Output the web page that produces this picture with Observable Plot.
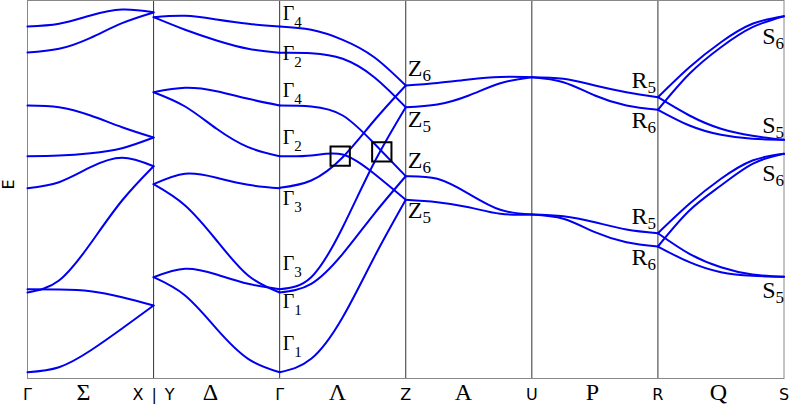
<!DOCTYPE html>
<html>
<head>
<meta charset="utf-8">
<script src="https://cdn.jsdelivr.net/npm/d3@7"></script>
<script src="https://cdn.jsdelivr.net/npm/@observablehq/plot@0.6"></script>
<style>
  html, body { margin: 0; padding: 0; background: #fff; }
</style>
</head>
<body>
<div id="chart"></div>
<script>
// Fractional positions along each path segment where energies were read
const kStops = [0, 0.25, 0.5, 0.75, 1];
// Segment start positions on the k-path: Γ→X, Y→Γ, Γ→Z, Z→U, U→R, R→S
const segStart = [0, 1, 2, 3, 4, 5];

// Energies (arbitrary units) of each band at kStops, per segment
const segSigma = [
  [352, 354.7, 363, 369, 366.3],
  [326, 329.7, 340.7, 355.3, 366],
  [273, 271.3, 263, 251.3, 241],
  [222.3, 223, 225.3, 230.3, 241],
  [190.3, 196.3, 211.3, 220.7, 212.3],
  [86, 98, 135, 178, 212.3],
  [89.3, 89, 87.3, 81.3, 73],
  [6.3, 11.3, 28, 50, 73]
];
const segDelta = [
  [361.3, 362.7, 359, 354.7, 352],
  [361.3, 348.7, 338, 329.7, 325.7],
  [286.3, 290.7, 287.3, 279.7, 273],
  [286.3, 272, 249.7, 231.3, 222.3],
  [194.3, 204.7, 200.7, 193.7, 190.3],
  [194.3, 173, 138, 103, 86],
  [101.3, 109.7, 104, 94.7, 89.3],
  [101.3, 83, 49.7, 19.7, 6.3]
];
const segLambda = [
  [352, 348.7, 338.7, 321.3, 293],
  [325.7, 325.3, 319.7, 301.3, 271.3],
  [273, 272, 263, 235, 202.3],
  [222.3, 223, 224, 204.7, 178.7],
  [190.7, 198, 221.3, 258, 293],
  [89.3, 101.3, 151.3, 216, 271.3],
  [86, 94.7, 124.7, 164.7, 202.3],
  [6.3, 19.7, 61.3, 121.3, 178.7]
];
const segA = [
  [293, 295.5, 299, 301.5, 301.3],
  [271.3, 274, 283, 295.3, 301.3],
  [202.3, 199.7, 184.7, 168.7, 164],
  [178.7, 176.3, 171.3, 164.7, 164]
];
const segP = [
  [301.3, 299.7, 293, 286.3, 281.3],
  [301.3, 296.3, 283, 273, 268.7],
  [164, 162.3, 156.3, 149, 145.3],
  [164, 159.7, 146.3, 136.3, 132]
];
const segQ = [
  [281.3, 311.3, 336.3, 354.7, 362.3],
  [268.7, 304.7, 331.3, 351.3, 362.3],
  [281.3, 263, 249.7, 242.7, 238.7],
  [268.7, 253, 243.7, 239.7, 238.7],
  [145.3, 174.7, 199.7, 218, 224.7],
  [132, 168, 193, 214.7, 224.7],
  [145.3, 124.7, 111.3, 104, 101.7],
  [132, 116.3, 106.3, 102.7, 101.7]
];

// High-symmetry point tick labels and path-line labels
const symLabels = ["Γ", "X\u2002|\u2002Y", "Γ", "Z", "U", "R", "S"];
const symK = [0, 1, 2, 3, 4, 5, 6];
const lineLabels = ["Σ", "Δ", "Λ", "A", "P", "Q"];
const lineK = [0.444, 1.451, 2.458, 3.458, 4.48, 5.48];
const dividerK = [1, 2, 3, 4, 5];

// Irreducible representation labels
const gammaE = [364.7, 325, 288, 241, 179.5, 114.5, 76.5, 34.5];
const gammaSub = ["4", "2", "4", "2", "3", "3", "1", "1"];
const zE = [310, 259, 218, 168];
const zSub = ["6", "5", "6", "5"];
const rE = [298, 258, 162, 121];
const rSub = ["5", "6", "5", "6"];
const sE = [342, 253, 205, 88];
const sSub = ["6", "5", "6", "5"];

// Highlighted crossings
const boxK = [2.48, 2.81];
const boxE = [222.3, 226.7];

const segments = [segSigma, segDelta, segLambda, segA, segP, segQ];
const rows = [];
segments.forEach((seg, s) => {
  seg.forEach((band, b) => {
    band.forEach((E, i) => rows.push({k: segStart[s] + kStops[i], E, id: s + "-" + b}));
  });
});

const mkLabels = (sym, k, Es, subs) => Es.map((E, i) => ({k, E, sym, sub: subs[i]}));
const gammaLabels = mkLabels("Γ", 2, gammaE, gammaSub);
const zLabels = mkLabels("Z", 3, zE, zSub);
const rLabels = mkLabels("R", 5, rE, rSub);
const sLabels = mkLabels("S", 6, sE, sSub);

const serif = "'Liberation Serif', 'DejaVu Serif', serif";
const sans = "'DejaVu Sans', sans-serif";
const repStyle = {x: "k", y: "E", text: "sym", fontFamily: serif, fontStyle: "normal", fill: "#000"};

const plot = Plot.plot({
  width: 789,
  height: 404,
  marginLeft: 27,
  marginRight: 5.5,
  marginTop: 0,
  marginBottom: 26,
  x: {domain: [0, 6], axis: null},
  y: {domain: [0, 378], axis: null},
  style: {background: "#fff"},
  marks: [
    Plot.ruleX(dividerK, {stroke: "#333", strokeWidth: 1}),
    Plot.frame({stroke: "#888", strokeWidth: 1}),
    Plot.line(rows, {x: "k", y: "E", z: "id", stroke: "#0000f0", strokeWidth: 2, curve: "natural"}),
    Plot.dot(boxK.map((k, i) => ({k, E: boxE[i]})), {x: "k", y: "E", symbol: "square", r: 10.9, stroke: "#000", strokeWidth: 2, fill: "none"}),
    Plot.text(gammaLabels, {...repStyle, textAnchor: "start", dx: 3, fontSize: 20}),
    Plot.text(zLabels, {...repStyle, textAnchor: "start", dx: 2, fontSize: 24}),
    Plot.text(rLabels, {...repStyle, textAnchor: "end", dx: -2, fontSize: 24}),
    Plot.text(sLabels, {...repStyle, textAnchor: "end", dx: 0, fontSize: 24}),
    Plot.text(symLabels.map((t, i) => ({t, k: symK[i]})), {x: "k", text: "t", frameAnchor: "bottom", lineAnchor: "bottom", dy: 21, fontFamily: sans, fontSize: 16, fill: "#000"}),
    Plot.text(lineLabels.map((t, i) => ({t, k: lineK[i]})), {x: "k", text: "t", frameAnchor: "bottom", lineAnchor: "bottom", dy: 21, fontFamily: serif, fontSize: 24, fill: "#000"}),
    Plot.text(["E"], {frameAnchor: "left", dx: -19, rotate: -90, fontFamily: sans, fontSize: 16, fill: "#000"})
  ]
});

// Attach subscripts to representation labels as real text tspans
const allLabels = [...gammaLabels, ...zLabels, ...rLabels, ...sLabels];
let idx = 0;
plot.querySelectorAll('g[font-style="normal"]').forEach(g => {
  g.querySelectorAll("text").forEach(t => {
    const d = allLabels[idx++];
    if (!d) return;
    const isGamma = d.sym === "Γ";
    const ts = document.createElementNS("http://www.w3.org/2000/svg", "tspan");
    ts.setAttribute("font-size", isGamma ? "15" : "17");
    ts.setAttribute("dy", isGamma ? "7" : "5");
    ts.textContent = d.sub;
    t.appendChild(ts);
  });
});

document.getElementById("chart").appendChild(plot);
</script>
</body>
</html>
